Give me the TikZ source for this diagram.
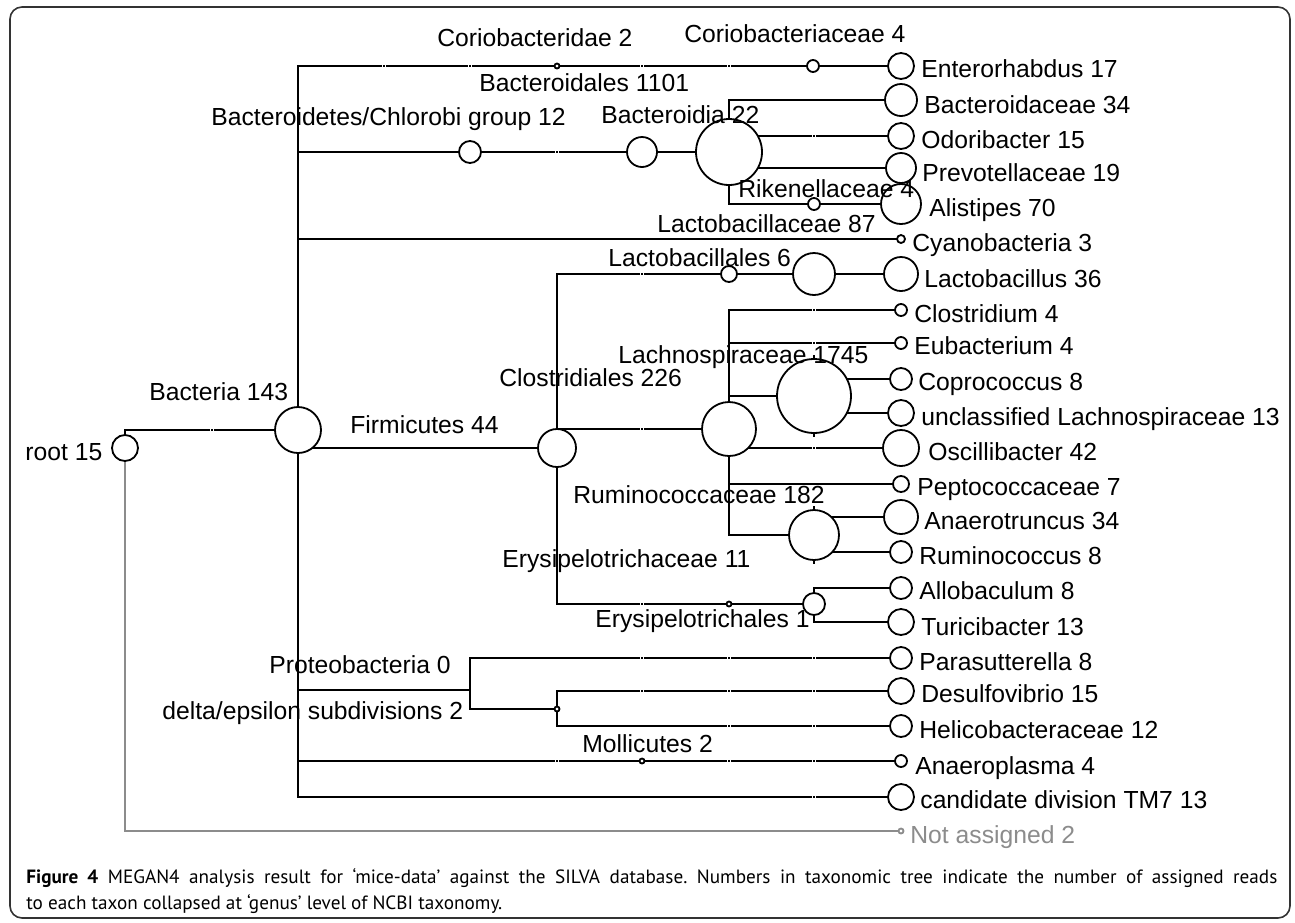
\documentclass[tikz,border=0pt]{standalone}
\usepackage{fontspec}
\setmainfont{Liberation Sans}
\newfontfamily\capfont{PT Sans}
\usetikzlibrary{backgrounds}
\tikzset{
  taxon/.style={circle, draw, fill=white, line width=0.9pt, inner sep=0pt},
  txt/.style={anchor=base west, inner sep=0pt, font=\fontsize{12.35}{14}\selectfont},
  branch/.style={line width=1pt},
  frame/.style={rounded corners=6pt, line width=0.8pt, black!80},
  captxt/.style={anchor=base west, inner sep=0pt, font=\capfont\fontsize{9.6}{13}\selectfont},
}
\colorlet{unassigned}{black!45}
% little break marks on the branches
\newcommand{\brkmark}[2]{%
  \fill[white] (#1-2,#2-1.6) rectangle (#1+2,#2+1.6);
  \fill (#1-0.6,#2-1.3) rectangle (#1+0.6,#2+1.3);}

\begin{document}
\frenchspacing
\begin{tikzpicture}[x=0.5pt,y=-0.5pt]
\useasboundingbox (0,0) rectangle (1295,922);
\draw[frame] (10,7) rectangle (1290,918);

% inner taxa
\node[taxon, minimum size=13pt] (root) at (125,448) {};
\node[taxon, minimum size=23pt] (bact) at (298,430) {};
\node[taxon, minimum size=2.5pt] (corid) at (557,66) {};
\node[taxon, minimum size=6pt] (corace) at (813,66) {};
\node[taxon, minimum size=11pt] (bcg) at (470,152) {};
\node[taxon, minimum size=15pt] (bacia) at (642,152) {};
\node[taxon, minimum size=33pt] (bacal) at (729,152) {};
\node[taxon, minimum size=6pt] (riken) at (814,204) {};
\node[taxon, minimum size=19pt] (firm) at (557,448) {};
\node[taxon, minimum size=8pt] (lacal) at (729,274) {};
\node[taxon, minimum size=21pt] (lacace) at (814,274) {};
\node[taxon, minimum size=27pt] (clos) at (729,429) {};
\node[taxon, minimum size=37pt] (lach) at (814,396) {};
\node[taxon, minimum size=25pt] (rumi) at (814,535) {};
\node[taxon, minimum size=2.5pt] (eryal) at (729,604) {};
\node[taxon, minimum size=11pt] (eryace) at (814,604) {};
\coordinate (prot) at (470,690);
\node[taxon, minimum size=2.5pt] (delta) at (557,709) {};
\node[taxon, minimum size=2.5pt] (moll) at (642,761) {};

% leaves
\node[taxon, minimum size=13pt] (enter) at (901,66) {};
\node[taxon, minimum size=16pt] (bactace) at (901,100) {};
\node[taxon, minimum size=13pt] (odori) at (901,136) {};
\node[taxon, minimum size=15pt] (prevo) at (901,168) {};
\node[taxon, minimum size=20pt] (alist) at (901,204) {};
\node[taxon, minimum size=4pt] (cyano) at (901,239) {};
\node[taxon, minimum size=17pt] (lactob) at (901,274) {};
\node[taxon, minimum size=6pt] (clost) at (901,310) {};
\node[taxon, minimum size=6pt] (eubac) at (901,343) {};
\node[taxon, minimum size=11pt] (copro) at (901,379) {};
\node[taxon, minimum size=13pt] (uncl) at (901,413) {};
\node[taxon, minimum size=18pt] (oscil) at (901,448) {};
\node[taxon, minimum size=8pt] (pepto) at (901,484) {};
\node[taxon, minimum size=17pt] (anaer) at (901,517) {};
\node[taxon, minimum size=11pt] (rumco) at (901,552) {};
\node[taxon, minimum size=11pt] (allob) at (901,588) {};
\node[taxon, minimum size=13pt] (turic) at (901,622) {};
\node[taxon, minimum size=11pt] (paras) at (901,658) {};
\node[taxon, minimum size=13pt] (desul) at (901,691) {};
\node[taxon, minimum size=11pt] (helic) at (901,726) {};
\node[taxon, minimum size=6pt] (anpl) at (901,761) {};
\node[taxon, minimum size=13pt] (tm7) at (901,797) {};
\node[taxon, draw=unassigned, minimum size=2.5pt] (notas) at (901,831) {};

% branches, behind the circles
\begin{pgfonlayer}{background}
\draw[branch] (root.center) |- (bact.center);
\draw[branch, unassigned] (root.center) |- (notas.center);
\draw[branch] (bact.center) |- (corid.center);
\draw[branch] (corid.center) -- (corace.center) -- (enter.center);
\draw[branch] (bact.center) |- (bcg.center);
\draw[branch] (bcg.center) -- (bacia.center) -- (bacal.center);
\draw[branch] (bacal.center) |- (bactace.center);
\draw[branch] (bacal.center) |- (odori.center);
\draw[branch] (bacal.center) |- (prevo.center);
\draw[branch] (bacal.center) |- (riken.center);
\draw[branch] (riken.center) -- (alist.center);
\draw[branch] (bact.center) |- (cyano.center);
\draw[branch] (bact.center) |- (firm.center);
\draw[branch] (firm.center) |- (lacal.center);
\draw[branch] (lacal.center) -- (lacace.center) -- (lactob.center);
\draw[branch] (firm.center) |- (clos.center);
\draw[branch] (clos.center) |- (clost.center);
\draw[branch] (clos.center) |- (eubac.center);
\draw[branch] (clos.center) |- (lach.center);
\draw[branch] (lach.center) |- (copro.center);
\draw[branch] (lach.center) |- (uncl.center);
\draw[branch] (lach.north) -- ++(0,-3) (lach.south) -- ++(0,3);
\draw[branch] (clos.center) |- (oscil.center);
\draw[branch] (clos.center) |- (pepto.center);
\draw[branch] (clos.center) |- (rumi.center);
\draw[branch] (rumi.center) |- (anaer.center);
\draw[branch] (rumi.center) |- (rumco.center);
\draw[branch] (rumi.north) -- ++(0,-3) (rumi.south) -- ++(0,3);
\draw[branch] (firm.center) |- (eryal.center);
\draw[branch] (eryal.center) -- (eryace.center);
\draw[branch] (eryace.center) |- (allob.center);
\draw[branch] (eryace.center) |- (turic.center);
\draw[branch] (bact.center) |- (prot);
\draw[branch] (prot) |- (paras.center);
\draw[branch] (prot) |- (delta.center);
\draw[branch] (delta.center) |- (desul.center);
\draw[branch] (delta.center) |- (helic.center);
\draw[branch] (bact.center) |- (moll.center);
\draw[branch] (moll.center) -- (anpl.center);
\draw[branch] (bact.center) |- (tm7.center);
\brkmark{212}{430}
\brkmark{384}{66} \brkmark{470}{66} \brkmark{642}{66} \brkmark{729}{66}
\brkmark{557}{152} \brkmark{814}{136}
\brkmark{642}{274} \brkmark{642}{429}
\brkmark{814}{310} \brkmark{814}{343} \brkmark{814}{448}
\brkmark{642}{604}
\brkmark{642}{658} \brkmark{729}{658} \brkmark{814}{658}
\brkmark{642}{691} \brkmark{729}{691} \brkmark{814}{691}
\brkmark{729}{726} \brkmark{814}{726}
\brkmark{557}{761} \brkmark{729}{761} \brkmark{814}{761}
\brkmark{814}{797}
\end{pgfonlayer}

% names of inner taxa
\node[txt] (root-t) at (25,460) {root 15};
\node[txt] (bact-t) at (149,400) {Bacteria 143};
\node[txt] (firm-t) at (350,433) {Firmicutes 44};
\node[txt] (bcg-t) at (211,125) {Bacteroidetes/Chlorobi group 12};
\node[txt] (corid-t) at (437,46) {Coriobacteridae 2};
\node[txt] (corace-t) at (684,42) {Coriobacteriaceae 4};
\node[txt] (bacal-t) at (479,91) {Bacteroidales 1101};
\node[txt] (bacia-t) at (601,123) {Bacteroidia 22};
\node[txt] (riken-t) at (738,197) {Rikenellaceae 4};
\node[txt] (lacace-t) at (657,232) {Lactobacillaceae 87};
\node[txt] (lacal-t) at (608,266) {Lactobacillales 6};
\node[txt] (lach-t) at (618,363) {Lachnospiraceae 1745};
\node[txt] (clos-t) at (499,386) {Clostridiales 226};
\node[txt] (rumi-t) at (573,503) {Ruminococcaceae 182};
\node[txt] (eryace-t) at (502,567) {Erysipelotrichaceae 11};
\node[txt] (eryal-t) at (595,627) {Erysipelotrichales 1};
\node[txt] (prot-t) at (269,673) {Proteobacteria 0};
\node[txt] (delta-t) at (162,719) {delta/epsilon subdivisions 2};
\node[txt] (moll-t) at (582,752) {Mollicutes 2};

% names of leaves
\node[txt] (enter-t) at (921,77) {Enterorhabdus 17};
\node[txt] (bactace-t) at (924,113) {Bacteroidaceae 34};
\node[txt] (odori-t) at (921,148) {Odoribacter 15};
\node[txt] (prevo-t) at (922,181) {Prevotellaceae 19};
\node[txt] (alist-t) at (929,216) {Alistipes 70};
\node[txt] (cyano-t) at (912,251) {Cyanobacteria 3};
\node[txt] (lactob-t) at (924,287) {Lactobacillus 36};
\node[txt] (clost-t) at (914,322) {Clostridium 4};
\node[txt] (eubac-t) at (914,354) {Eubacterium 4};
\node[txt] (copro-t) at (918,390) {Coprococcus 8};
\node[txt] (uncl-t) at (921,425) {unclassified Lachnospiraceae 13};
\node[txt] (oscil-t) at (928,460) {Oscillibacter 42};
\node[txt] (pepto-t) at (917,495) {Peptococcaceae 7};
\node[txt] (anaer-t) at (924,529) {Anaerotruncus 34};
\node[txt] (rumco-t) at (919,564) {Ruminococcus 8};
\node[txt] (allob-t) at (919,599) {Allobaculum 8};
\node[txt] (turic-t) at (921,635) {Turicibacter 13};
\node[txt] (paras-t) at (919,670) {Parasutterella 8};
\node[txt] (desul-t) at (921,702) {Desulfovibrio 15};
\node[txt] (helic-t) at (919,738) {Helicobacteraceae 12};
\node[txt] (anpl-t) at (915,774) {Anaeroplasma 4};
\node[txt] (tm7-t) at (920,808) {candidate division TM7 13};
\node[txt, text=unassigned] (notas-t) at (910,843) {Not assigned 2};

% caption
\node[captxt] (cap1) at (26,883)
  {\makebox[625.5pt][s]{\textbf{Figure 4} MEGAN4 analysis result for ‘mice-data’ against the SILVA database. Numbers in taxonomic tree indicate the number of assigned reads}};
\node[captxt] (cap2) at (26,909)
  {to each taxon collapsed at ‘genus’ level of NCBI taxonomy.};
\end{tikzpicture}
\end{document}
